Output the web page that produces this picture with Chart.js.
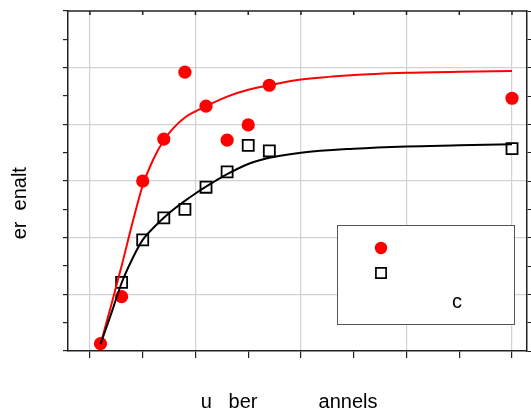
<!DOCTYPE html>
<html lang="en">
<head>
<meta charset="UTF-8">
<title>Penalty vs channels</title>
<script src="https://cdn.jsdelivr.net/npm/chart.js"></script>
<style>
  body { margin: 0; background: #fff; }
  #wrap { width: 531px; height: 412px; }
</style>
</head>
<body>
<div id="wrap"><canvas id="chart" width="531" height="412"></canvas></div>
<script>
// measured points (red circles / open squares)
const chanA = [1, 3, 5, 7, 9, 11, 13, 15, 17, 40];
const penA  = [0.13, 0.96, 3.0, 3.74, 4.92, 4.32, 3.72, 3.99, 4.69, 4.46];
const chanB = [3, 5, 7, 9, 11, 13, 15, 17, 40];
const penB  = [1.21, 1.96, 2.35, 2.5, 2.89, 3.16, 3.63, 3.53, 3.57];

// fitted curves
const fitX = [1, 2, 3, 4, 5, 6, 7, 8, 9, 10, 11, 13, 15, 17, 20, 25, 30, 35, 40];
const fitA = [0.12, 0.8, 1.5, 2.24, 2.92, 3.38, 3.72, 3.95, 4.12, 4.23, 4.32, 4.49, 4.61, 4.69, 4.79, 4.87, 4.91, 4.93, 4.94];
const fitB = [0.12, 0.65, 1.2, 1.62, 1.96, 2.17, 2.35, 2.51, 2.65, 2.78, 2.9, 3.12, 3.3, 3.41, 3.5, 3.57, 3.61, 3.63, 3.65];

const xTitle = 'u   ber           annels   ';
const yTitle = 'er  enalt        ';
const legendText = ['', '', 'c'];

const RED = '#ff0000';
const GRID = '#d2d2d2';
const FONT = 'Liberation Sans, Arial, sans-serif';

Chart.defaults.color = '#000';
Chart.defaults.font.family = FONT;

const pts = (xs, ys) => xs.map((x, i) => ({ x: x, y: ys[i] }));

// top frame with inward ticks + boxed legend
const framePlugin = {
  id: 'frame',
  afterDatasetsDraw(chart) {
    const { ctx, chartArea: a, scales } = chart;
    ctx.save();
    ctx.strokeStyle = '#222';
    ctx.lineWidth = 1.5;
    ctx.beginPath();
    ctx.moveTo(a.left, a.top);
    ctx.lineTo(a.right, a.top);
    scales.x.ticks.forEach(t => {
      const px = scales.x.getPixelForValue(t.value);
      ctx.moveTo(px, a.top);
      ctx.lineTo(px, a.top + 4);
    });
    ctx.stroke();

    // legend
    const bx = 337, by = 225, bw = 177, bh = 99;
    ctx.fillStyle = '#fff';
    ctx.fillRect(bx, by, bw, bh);
    ctx.strokeStyle = '#555';
    ctx.lineWidth = 1;
    ctx.strokeRect(bx + 0.5, by + 0.5, bw, bh);
    const dsA = chart.data.datasets[1];
    const dsB = chart.data.datasets[0];
    Chart.helpers.drawPoint(ctx, {
      pointStyle: 'circle', radius: 6.2, borderWidth: 0
    }, 381, 248);
    ctx.fillStyle = dsA.pointBackgroundColor;
    ctx.fill();
    ctx.fillStyle = '#fff';
    ctx.strokeStyle = dsB.pointBorderColor;
    ctx.lineWidth = 1.7;
    Chart.helpers.drawPoint(ctx, {
      pointStyle: 'rect', radius: 7.2, borderWidth: 1.7
    }, 381, 273);
    ctx.fillStyle = '#000';
    ctx.font = '20px ' + FONT;
    ctx.textBaseline = 'alphabetic';
    ctx.textAlign = 'left';
    ctx.fillText(legendText[2], 452, 308);
    ctx.restore();
  }
};

new Chart(document.getElementById('chart'), {
  type: 'scatter',
  data: {
    datasets: [
      {
        data: pts(chanB, penB),
        pointStyle: 'rect',
        pointRadius: 7.8,
        pointBorderWidth: 1.8,
        pointBackgroundColor: '#fff',
        pointBorderColor: '#000',
        order: 4
      },
      {
        data: pts(chanA, penA),
        pointStyle: 'circle',
        pointRadius: 6.6,
        pointBorderWidth: 0,
        pointBackgroundColor: RED,
        order: 3
      },
      {
        data: pts(fitX, fitA),
        showLine: true,
        pointRadius: 0,
        borderColor: RED,
        borderWidth: 2,
        cubicInterpolationMode: 'monotone',
        order: 2
      },
      {
        data: pts(fitX, fitB),
        showLine: true,
        pointRadius: 0,
        borderColor: '#000',
        borderWidth: 2,
        cubicInterpolationMode: 'monotone',
        order: 1
      }
    ]
  },
  options: {
    responsive: false,
    animation: false,
    layout: { autoPadding: false, padding: { top: 11, left: 0, right: 0, bottom: 0 } },
    plugins: { legend: { display: false }, tooltip: { enabled: false } },
    scales: {
      x: {
        type: 'linear',
        min: -2.08,
        max: 41.42,
        border: { color: '#222', width: 1.5 },
        grid: {
          color: c => (c.tick && c.tick.value % 10 === 0) ? GRID : 'rgba(0,0,0,0)',
          lineWidth: 1.2,
          tickColor: '#222',
          tickLength: 7
        },
        ticks: { display: false, stepSize: 5, includeBounds: false, maxTicksLimit: 100 },
        title: {
          display: true,
          text: xTitle,
          font: { size: 20, lineHeight: 1 },
          padding: { top: 34, bottom: 0 }
        }
      },
      y: {
        type: 'linear',
        min: 0,
        max: 6,
        border: { color: '#222', width: 1.5 },
        grid: {
          color: c => {
            const v = c.tick ? c.tick.value : 0;
            return (Number.isInteger(v) && v > 0 && v < 6) ? GRID : 'rgba(0,0,0,0)';
          },
          lineWidth: 1.2,
          tickColor: '#222',
          tickLength: 5
        },
        ticks: { display: false, stepSize: 0.5, maxTicksLimit: 100 },
        title: {
          display: true,
          text: yTitle,
          font: { size: 20, lineHeight: 1 },
          padding: { top: 10, bottom: 33 }
        }
      },
      y2: {
        type: 'linear',
        position: 'right',
        min: 0,
        max: 6,
        border: { color: '#222', width: 1.5 },
        grid: { drawOnChartArea: false, tickColor: '#222', tickLength: 4 },
        ticks: { display: false, stepSize: 0.5, maxTicksLimit: 100 }
      }
    }
  },
  plugins: [framePlugin]
});
</script>
</body>
</html>
